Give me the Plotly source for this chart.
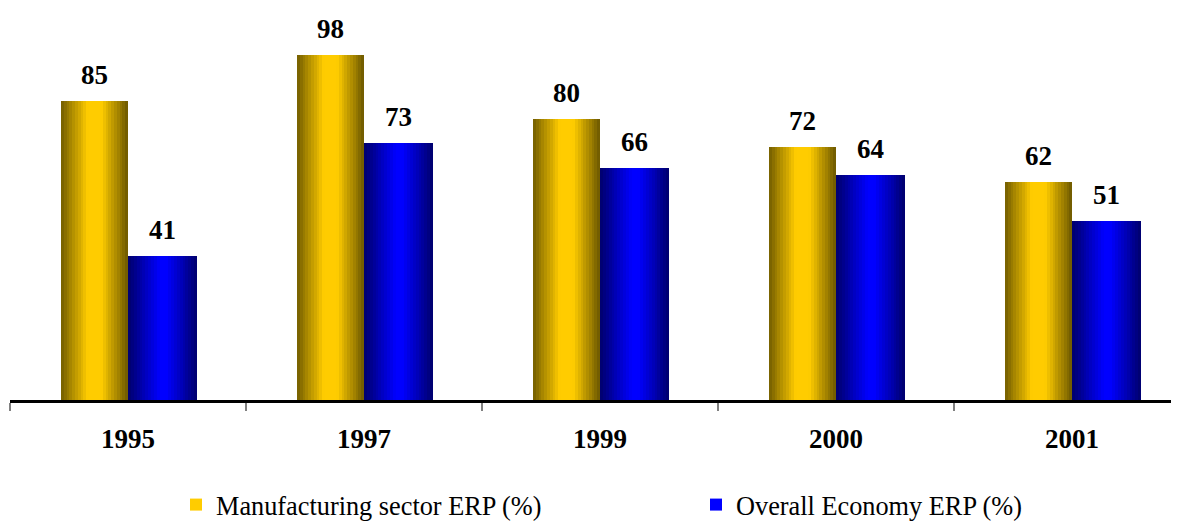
import plotly.graph_objects as go

# ---- data ----
years = ["1995", "1997", "1999", "2000", "2001"]
manufacturing = [85, 98, 80, 72, 62]
overall = [41, 73, 66, 64, 51]
series_names = ["Manufacturing sector ERP (%)", "Overall Economy ERP (%)"]

# ---- style ----
FONT = "Liberation Serif, 'Times New Roman', Times, serif"
N_SLICES = 24
gold_stops = [(0.0, (0x74, 0x5E, 0x00)), (0.40, (0xFF, 0xCC, 0x00)),
              (0.60, (0xFF, 0xCC, 0x00)), (1.0, (0x6C, 0x58, 0x00))]
blue_stops = [(0.0, (0x00, 0x00, 0x6C)), (0.46, (0x00, 0x00, 0xFF)),
              (0.56, (0x00, 0x00, 0xFF)), (1.0, (0x00, 0x00, 0x6C))]


def grad_color(stops, t):
    for (t0, c0), (t1, c1) in zip(stops, stops[1:]):
        if t0 <= t <= t1:
            f = (t - t0) / (t1 - t0) if t1 > t0 else 0
            return "rgb(%d,%d,%d)" % tuple(round(a + (b - a) * f) for a, b in zip(c0, c1))
    return "rgb(%d,%d,%d)" % stops[-1][1]


fig = go.Figure()

series = [
    (manufacturing, series_names[0], gold_stops, -0.284, 0.284),
    (overall, series_names[1], blue_stops, 0.0, 0.292),
]

for vals, name, stops, start, width in series:
    step = width / N_SLICES
    for k in range(N_SLICES):
        off = start + k * step
        w = min(step * 1.6, start + width - off)
        t = (k + 0.5) / N_SLICES
        fig.add_bar(
            x=years, y=vals, offset=off, width=w,
            marker=dict(color=grad_color(stops, t), line=dict(width=0)),
            name=name, showlegend=(k == N_SLICES // 2),
            hoverinfo="skip",
        )
    for i, v in enumerate(vals):
        fig.add_annotation(
            x=i + start + width / 2, y=v, text="<b>%d</b>" % v,
            showarrow=False, yshift=26, yanchor="middle",
            font=dict(family=FONT, size=27, color="black"),
        )

# axis baseline carried to the right edge of the page
fig.add_shape(type="line", xref="paper", yref="paper", x0=0, x1=1.02, y0=0, y1=0,
              line=dict(color="black", width=2), layer="above")

fig.update_layout(
    width=1171, height=513,
    margin=dict(l=2, r=0, t=0, b=120, autoexpand=False),
    paper_bgcolor="white", plot_bgcolor="white",
    barmode="overlay", bargap=0,
    font=dict(family=FONT, color="black"),
    xaxis=dict(
        type="category", range=[-0.5, 4.453],
        tickson="boundaries", ticks="outside", ticklen=8, tickwidth=2,
        tickcolor="#808080", showline=True, linecolor="black", linewidth=2,
        showgrid=False, zeroline=False,
        tickfont=dict(family=FONT, size=27, color="black", weight="bold"),
        ticklabelstandoff=13,
    ),
    yaxis=dict(range=[0, 111.35], visible=False, showgrid=False, zeroline=False),
    legend=dict(
        orientation="h", x=0.142, xanchor="left", y=-0.2646, yanchor="middle",
        font=dict(family=FONT, size=26.3, color="black"),
        entrywidth=475, bgcolor="rgba(0,0,0,0)",
    ),
)

fig.write_html("out.html")
